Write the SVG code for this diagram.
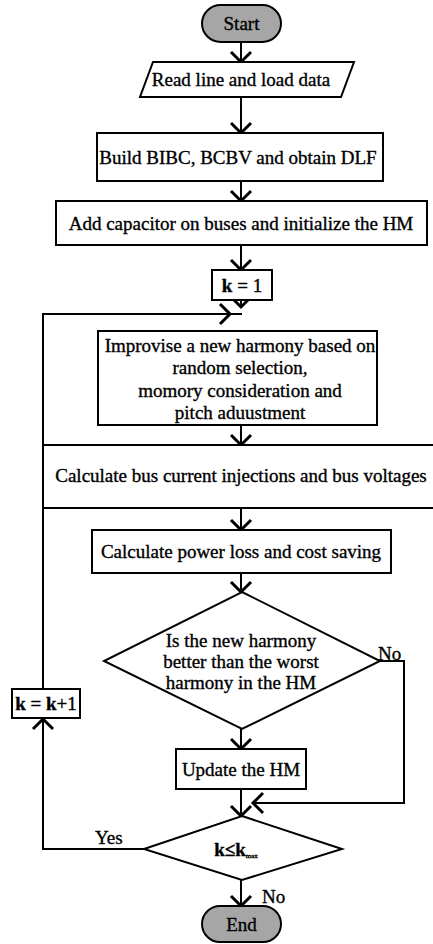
<svg xmlns="http://www.w3.org/2000/svg" width="433" height="944" viewBox="0 0 433 944">
<defs>
<style>
text{font-family:"Liberation Serif","Times New Roman",serif;font-size:19px;fill:#000;stroke:#000;stroke-width:0.35;text-anchor:middle}
.box{fill:#fff;stroke:#000;stroke-width:2}
.term{fill:#a6a6a6;stroke:#000;stroke-width:2}
.ln{fill:none;stroke:#000;stroke-width:2}
.chev{fill:none;stroke:#000;stroke-width:3}
.b{font-weight:bold}
.lbl{text-anchor:start}
</style>
<marker id="ah" markerUnits="userSpaceOnUse" markerWidth="24" markerHeight="24" viewBox="-12 -12 24 24" refX="0" refY="0" orient="auto" overflow="visible">
<path d="M-10,-10 L0,0 L-10,10" fill="none" stroke="#000" stroke-width="3"/>
</marker>
</defs>
<rect width="433" height="944" fill="#fff"/>

<g id="connectors">
<line class="ln" x1="241" y1="42" x2="241" y2="62" marker-end="url(#ah)"/>
<line class="ln" x1="241" y1="97" x2="241" y2="133" marker-end="url(#ah)"/>
<line class="ln" x1="241" y1="181" x2="241" y2="201" marker-end="url(#ah)"/>
<line class="ln" x1="241" y1="245" x2="241" y2="270" marker-end="url(#ah)"/>
<line class="ln" x1="241" y1="300" x2="241" y2="307" marker-end="url(#ah)"/>
<polyline class="ln" points="43,689 43,314 242,314"/>
<path class="chev" d="M220,304 L230,314 L220,324"/>
<line class="ln" x1="241" y1="425" x2="241" y2="445" marker-end="url(#ah)"/>
<line class="ln" x1="241" y1="508" x2="241" y2="530" marker-end="url(#ah)"/>
<line class="ln" x1="241" y1="573" x2="241" y2="592" marker-end="url(#ah)"/>
<line class="ln" x1="241" y1="729" x2="241" y2="749" marker-end="url(#ah)"/>
<line class="ln" x1="241" y1="789" x2="241" y2="816" marker-end="url(#ah)"/>
<polyline class="ln" points="380,661 404,661 404,803 253,803" marker-end="url(#ah)"/>
<polyline class="ln" points="144,849 43,849 43,719" marker-end="url(#ah)"/>
<line class="ln" x1="241" y1="880" x2="241" y2="906" marker-end="url(#ah)"/>
<text class="lbl" x="378" y="660">No</text>
<text class="lbl" x="95" y="844">Yes</text>
<text class="lbl" x="262" y="903">No</text>
</g>

<g id="start">
<rect class="term" x="202" y="5" width="79" height="37" rx="18.5"/>
<text x="241.5" y="30">Start</text>
</g>

<g id="read">
<polygon class="box" points="153,62 354,62 341,97 140,97"/>
<text x="241" y="86">Read line and load data</text>
</g>

<g id="build">
<rect class="box" x="97" y="133" width="286" height="48"/>
<text x="238" y="163.5">Build BIBC, BCBV and obtain DLF</text>
</g>

<g id="add">
<rect class="box" x="56" y="201" width="371" height="44"/>
<text x="241" y="229.5">Add capacitor on buses and initialize the HM</text>
</g>

<g id="kinit">
<rect class="box" x="212" y="270" width="60" height="30"/>
<text x="242" y="291.5"><tspan class="b">k</tspan> = 1</text>
</g>

<g id="improvise">
<rect class="box" x="98" y="331" width="279" height="94"/>
<text x="240" y="352">Improvise a new harmony based on</text>
<text x="240" y="374">random selection,</text>
<text x="240" y="397">momory consideration and</text>
<text x="240" y="419">pitch aduustment</text>
</g>

<g id="calcbus">
<rect class="box" x="43" y="445" width="400" height="63"/>
<text x="241" y="482">Calculate bus current injections and bus voltages</text>
</g>

<g id="powerloss">
<rect class="box" x="92" y="530" width="299" height="43"/>
<text x="241" y="558">Calculate power loss and cost saving</text>
</g>

<g id="decision1">
<polygon class="box" points="242,592 380,661 242,729 104,661"/>
<text x="241" y="647">Is the new harmony</text>
<text x="241" y="668">better than the worst</text>
<text x="241" y="689">harmony in the HM</text>
</g>

<g id="update">
<rect class="box" x="176" y="749" width="130" height="40"/>
<text x="241" y="775.5">Update the HM</text>
</g>

<g id="decision2">
<polygon class="box" points="242,816 342,849 242,880 144,849"/>
<text x="236" y="855.5"><tspan class="b">k≤k</tspan><tspan font-size="7" dy="2">max</tspan></text>
</g>

<g id="kinc">
<rect class="box" x="12" y="689" width="68" height="29"/>
<text x="46" y="710"><tspan class="b">k</tspan> = <tspan class="b">k</tspan>+1</text>
</g>

<g id="end">
<rect class="term" x="202" y="906" width="79" height="36" rx="18"/>
<text x="241.5" y="930.5">End</text>
</g>
</svg>
